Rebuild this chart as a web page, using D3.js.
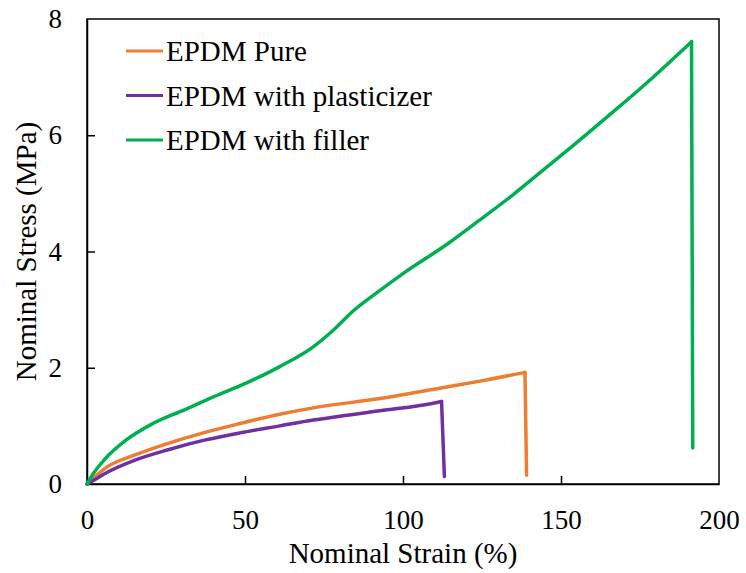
<!DOCTYPE html>
<html>
<head>
<meta charset="utf-8">
<script src="https://cdn.jsdelivr.net/npm/d3@7"></script>
<style>
  body { margin: 0; background: #fff; }
</style>
</head>
<body>
<div id="chart"></div>
<script>
// series names + colours
const seriesNames = ["EPDM Pure", "EPDM with plasticizer", "EPDM with filler"];
const seriesColors = ["#ED7D31", "#7030A0", "#00B050"];

// [strain %, stress MPa]; last point = after break
const pureData = [[0,0],[2,0.1],[5.7,0.27],[15.2,0.5],[25.7,0.7],[36.8,0.88],[48.4,1.04],[61,1.2],[71.6,1.31],[92.7,1.47],[113.8,1.67],[124.4,1.77],[138.6,1.92],[139.1,0.15]];
const plastData = [[0,0],[2,0.06],[5.7,0.18],[15.2,0.41],[25.7,0.59],[36.8,0.75],[48.4,0.88],[61,1.0],[71.6,1.1],[92.7,1.26],[109.6,1.39],[112.2,1.42],[113.1,0.13]];
const fillerData = [[0,0],[2,0.18],[5.7,0.43],[12,0.74],[20.5,1.03],[31,1.28],[40,1.5],[50.5,1.74],[61,2.02],[71.6,2.36],[78,2.65],[84.3,2.98],[92.7,3.33],[100,3.62],[113.8,4.12],[124,4.53],[134.9,4.98],[145,5.43],[156,5.92],[166,6.38],[177.1,6.9],[191.3,7.61],[191.7,0.62]];

const xTicks = [0, 50, 100, 150, 200];
const yTicks = [0, 2, 4, 6, 8];

const W = 746, H = 573;
const margin = {top: 19, right: 27, bottom: 89, left: 87};
const width = W - margin.left - margin.right;
const height = H - margin.top - margin.bottom;
const serif = "Liberation Serif";

const svg = d3.select("#chart").append("svg")
  .attr("width", W).attr("height", H);

const g = svg.append("g")
  .attr("transform", "translate(" + margin.left + "," + margin.top + ")");

const x = d3.scaleLinear().domain([0, 200]).range([0, width]);
const y = d3.scaleLinear().domain([0, 8]).range([height, 0]);

// frame
g.append("rect")
  .attr("width", width).attr("height", height)
  .attr("fill", "none").attr("stroke", "#000").attr("stroke-width", 1.5);

// axes, ticks pointing inward
const xAxis = g.append("g")
  .attr("transform", "translate(0," + height + ")")
  .call(d3.axisBottom(x).tickValues(xTicks).tickSizeInner(-8).tickSizeOuter(0).tickPadding(26));
const yAxis = g.append("g")
  .call(d3.axisLeft(y).tickValues(yTicks).tickSizeInner(-8).tickSizeOuter(0).tickPadding(25));

[xAxis, yAxis].forEach(ax => {
  ax.attr("font-family", serif).attr("font-size", 27);
  ax.select(".domain").attr("stroke", "#000").attr("stroke-width", 1.5);
  ax.selectAll(".tick line").attr("stroke", "#000").attr("stroke-width", 1.5);
  ax.selectAll(".tick text").attr("fill", "#000");
});
xAxis.selectAll(".tick line").filter(d => d === 0 || d === 200).remove();
yAxis.selectAll(".tick line").filter(d => d === 0 || d === 8).remove();

// axis titles
svg.append("text")
  .attr("x", margin.left + width / 2).attr("y", 563)
  .attr("text-anchor", "middle")
  .attr("font-family", serif).attr("font-size", 29)
  .text("Nominal Strain (%)");

svg.append("text")
  .attr("transform", "translate(36," + (margin.top + height / 2) + ") rotate(-90)")
  .attr("text-anchor", "middle")
  .attr("font-family", serif).attr("font-size", 29)
  .text("Nominal Stress (MPa)");

// curves: smooth loading part, straight drop at break
const smooth = d3.line().x(d => x(d[0])).y(d => y(d[1])).curve(d3.curveMonotoneX);
const straight = d3.line().x(d => x(d[0])).y(d => y(d[1]));
const allData = [pureData, plastData, fillerData];

allData.forEach((data, i) => {
  const rise = data.slice(0, -1);
  const drop = data.slice(-2);
  const grp = g.append("g")
    .attr("fill", "none")
    .attr("stroke", seriesColors[i])
    .attr("stroke-width", 3.5)
    .attr("stroke-linejoin", "round")
    .attr("stroke-linecap", "round");
  grp.append("path").datum(rise).attr("d", smooth);
  grp.append("path").datum(drop).attr("d", straight);
});

// legend
const legend = svg.append("g").attr("transform", "translate(126,51)");
seriesNames.forEach((name, i) => {
  const row = legend.append("g").attr("transform", "translate(0," + (i * 44.5) + ")");
  row.append("line")
    .attr("x1", 0).attr("x2", 37)
    .attr("stroke", seriesColors[i]).attr("stroke-width", 3);
  row.append("text")
    .attr("x", 40).attr("dy", "0.35em")
    .attr("font-family", serif).attr("font-size", 29)
    .text(name);
});
</script>
</body>
</html>
